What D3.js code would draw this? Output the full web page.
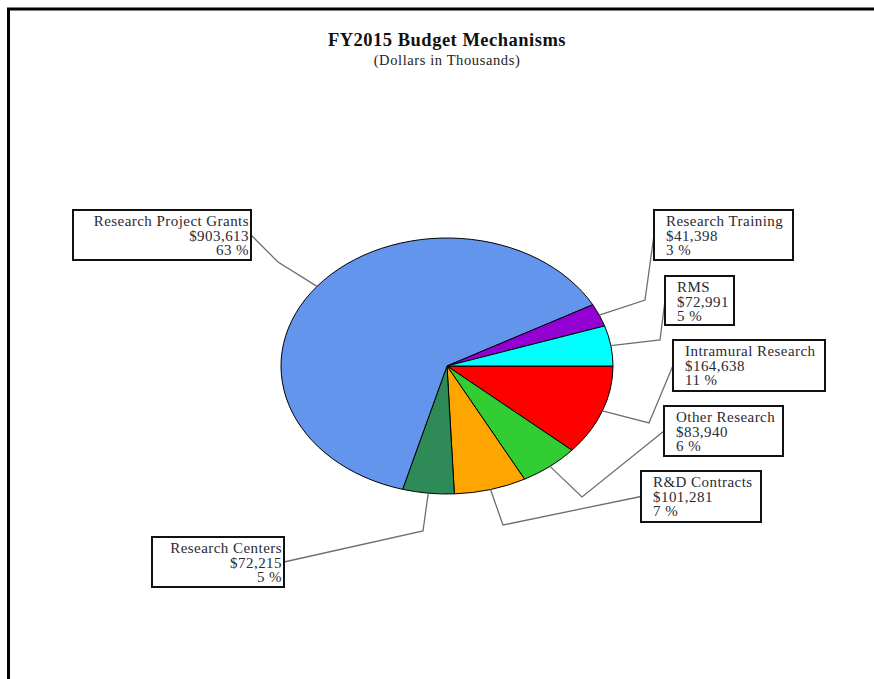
<!DOCTYPE html>
<html>
<head>
<meta charset="utf-8">
<script src="https://cdn.jsdelivr.net/npm/d3@7"></script>
<style>
  body { margin: 0; background: #fff; }
  svg { display: block; }
  text { font-family: "Liberation Serif", "Times New Roman", serif; fill: #2a2a33; }
</style>
</head>
<body>
<div id="chart"></div>
<script>
// FY2015 budget by mechanism, dollars in thousands (clockwise from 3 o'clock)
var categories = ["Intramural Research", "Other Research", "R&D Contracts", "Research Centers",
                  "Research Project Grants", "Research Training", "RMS"];
var amounts = [164638, 83940, 101281, 72215, 903613, 41398, 72991];
var colors = ["#ff0000", "#32cd32", "#ffa500", "#2e8b57", "#6495ed", "#9400d3", "#00ffff"];

// label boxes: box rect, text side, elbow of the leader line
var labelLayout = [
    {x: 673, y: 340, w: 152, h: 51, side: "left",  elbow: [649, 423]},
    {x: 664, y: 406, w: 119, h: 50, side: "left",  elbow: [582, 497]},
    {x: 641, y: 471, w: 120, h: 51, side: "left",  elbow: [503, 525]},
    {x: 152, y: 537, w: 132, h: 50, side: "right", elbow: [423, 531]},
    {x: 73,  y: 210, w: 178, h: 50, side: "right", elbow: [278, 262]},
    {x: 654, y: 210, w: 139, h: 50, side: "left",  elbow: [645, 300]},
    {x: 665, y: 276, w: 69,  h: 49, side: "left",  elbow: [660, 340]}
];

var W = 874, H = 679;
var cx = 447, cy = 366, rx = 166, ry = 128;

var svg = d3.select("#chart").append("svg")
    .attr("width", W)
    .attr("height", H);

// frame (only top and left edges are visible)
svg.append("path")
    .attr("d", "M8.5," + H + "V9H" + W)
    .attr("fill", "none")
    .attr("stroke", "#000")
    .attr("stroke-width", 3);

svg.append("text")
    .attr("x", 447).attr("y", 46)
    .attr("text-anchor", "middle")
    .style("font-size", "18.5px")
    .style("letter-spacing", "0.5px")
    .style("font-weight", "bold")
    .style("fill", "#111")
    .text("FY2015 Budget Mechanisms");

svg.append("text")
    .attr("x", 447).attr("y", 65)
    .attr("text-anchor", "middle")
    .style("font-size", "14.5px")
    .style("letter-spacing", "0.6px")
    .style("fill", "#222")
    .text("(Dollars in Thousands)");

var total = d3.sum(amounts);
var data = categories.map(function (c, i) {
    return {name: c, value: amounts[i], color: colors[i], layout: labelLayout[i]};
});

var pie = d3.pie()
    .sort(null)
    .value(function (d) { return d.value; })
    .startAngle(Math.PI / 2)
    .endAngle(Math.PI / 2 + 2 * Math.PI);

var arc = d3.arc().innerRadius(0).outerRadius(rx);
var arcs = pie(data);

svg.append("g")
    .attr("transform", "translate(" + cx + "," + cy + ") scale(1," + (ry / rx) + ")")
    .selectAll("path")
    .data(arcs)
    .enter().append("path")
    .attr("d", arc)
    .attr("fill", function (d) { return d.data.color; })
    .attr("stroke", "#000")
    .attr("stroke-width", 1)
    .attr("vector-effect", "non-scaling-stroke");

var money = d3.format("$,");
var pct = function (v) { return Math.round(100 * v / total) + " %"; };

// leader lines
svg.append("g").selectAll("polyline")
    .data(arcs)
    .enter().append("polyline")
    .attr("points", function (d) {
        var a = (d.startAngle + d.endAngle) / 2;
        var L = d.data.layout;
        var px = cx + rx * Math.sin(a), py = cy - ry * Math.cos(a);
        var bx = L.side === "left" ? L.x : L.x + L.w;
        var by = L.y + L.h / 2;
        return [[px, py], L.elbow, [bx, by]].join(" ");
    })
    .attr("fill", "none")
    .attr("stroke", "#6e6e6e")
    .attr("stroke-width", 1.3);

var labels = svg.append("g").selectAll("g")
    .data(arcs)
    .enter().append("g");

labels.append("rect")
    .attr("x", function (d) { return d.data.layout.x; })
    .attr("y", function (d) { return d.data.layout.y; })
    .attr("width", function (d) { return d.data.layout.w; })
    .attr("height", function (d) { return d.data.layout.h; })
    .attr("fill", "#fff")
    .attr("stroke", "#111")
    .attr("stroke-width", 2);

labels.each(function (d) {
    var L = d.data.layout;
    var lines = [d.data.name, money(d.data.value), pct(d.data.value)];
    var tx = L.side === "left" ? L.x + 12 : L.x + L.w - 2;
    d3.select(this).selectAll("text")
        .data(lines)
        .enter().append("text")
        .attr("x", tx)
        .attr("y", function (t, i) { return L.y + 16 + i * 14.5; })
        .attr("text-anchor", L.side === "left" ? "start" : "end")
        .style("font-size", "15px")
        .style("letter-spacing", "0.45px")
        .text(function (t) { return t; });
});
</script>
</body>
</html>
